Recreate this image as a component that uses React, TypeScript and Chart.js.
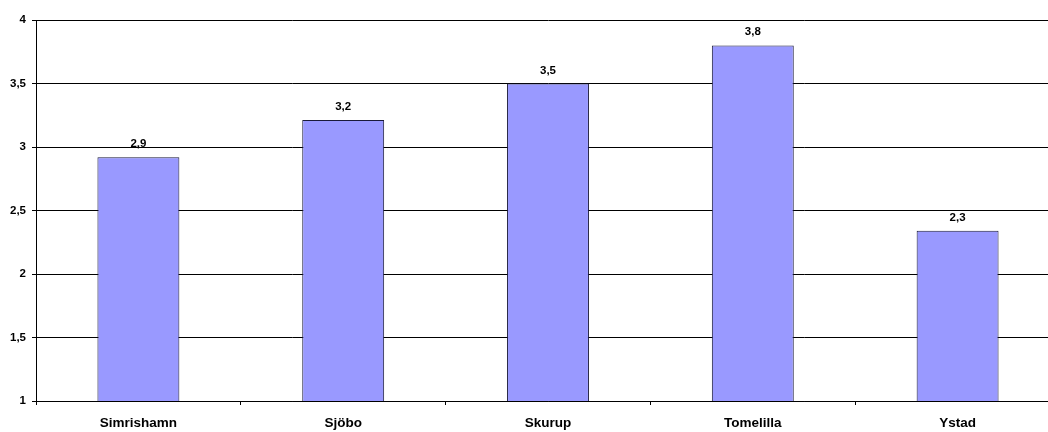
import React, { useEffect, useRef } from "react";
import { Chart, registerables } from "chart.js";

Chart.register(...registerables);

const categories = ["Simrishamn", "Sjöbo", "Skurup", "Tomelilla", "Ystad"];
const values = [2.92, 3.213, 3.5, 3.8, 2.34];
const yMin = 1;
const yMax = 4;
const yStep = 0.5;

const FONT = "'Liberation Sans', Arial, sans-serif";

const fmt = (v: number, d: number) => v.toFixed(d).replace(".", ",");

const valueLabels = {
  id: "valueLabels",
  afterDatasetsDraw(chart: any) {
    const ctx = chart.ctx;
    const meta = chart.getDatasetMeta(0);
    ctx.save();
    ctx.font = `bold 11.5px ${FONT}`;
    ctx.fillStyle = "#000";
    ctx.textAlign = "center";
    ctx.textBaseline = "alphabetic";
    meta.data.forEach((bar: any, i: number) => {
      const v = chart.data.datasets[0].data[i] as number;
      ctx.fillText(fmt(v, 1), bar.x, bar.y - 10);
    });
    ctx.restore();
  },
};

export default function App() {
  const ref = useRef<HTMLCanvasElement>(null);
  useEffect(() => {
    if (!ref.current) return;
    const chart = new Chart(ref.current, {
      type: "bar",
      data: {
        labels: categories,
        datasets: [
          {
            data: values,
            backgroundColor: "#9999FF",
            borderColor: "#1a1a3a",
            borderWidth: 1,
            barPercentage: 0.4,
            categoryPercentage: 1,
          },
        ],
      },
      options: {
        responsive: false,
        animation: false,
        devicePixelRatio: 1,
        layout: { padding: { top: 20, right: 2, left: 0, bottom: 0 } },
        plugins: { legend: { display: false }, tooltip: { enabled: false } },
        scales: {
          x: {
            grid: {
              drawOnChartArea: false,
              drawTicks: true,
              tickLength: 4,
              color: "#000",
              offset: true,
            },
            border: { display: true, color: "#000", width: 1 },
            ticks: {
              color: "#000",
              font: { family: FONT, size: 13.5, weight: "bold" },
              padding: 10,
              maxRotation: 0,
              autoSkip: false,
            },
            afterFit: (s: any) => {
              s.height = 31;
            },
          },
          y: {
            min: yMin,
            max: yMax,
            grid: {
              color: "#000",
              lineWidth: 1,
              drawTicks: true,
              tickLength: 4,
            },
            border: { display: true, color: "#000", width: 1 },
            ticks: {
              stepSize: yStep,
              color: "#000",
              font: { family: FONT, size: 11.5, weight: "bold" },
              padding: 6,
              callback: (v: any) => fmt(Number(v), Number(v) % 1 === 0 ? 0 : 1),
            },
            afterFit: (s: any) => {
              s.width = 36;
            },
          },
        },
      },
      plugins: [valueLabels],
    });
    return () => chart.destroy();
  }, []);
  return (
    <div
      style={{
        position: "fixed",
        left: 0,
        top: 0,
        width: 1048,
        height: 432,
        overflow: "hidden",
        background: "#fff",
      }}
    >
      <canvas
        ref={ref}
        width={1062}
        height={432}
        style={{ display: "block", width: 1062, height: 432 }}
      />
    </div>
  );
}
